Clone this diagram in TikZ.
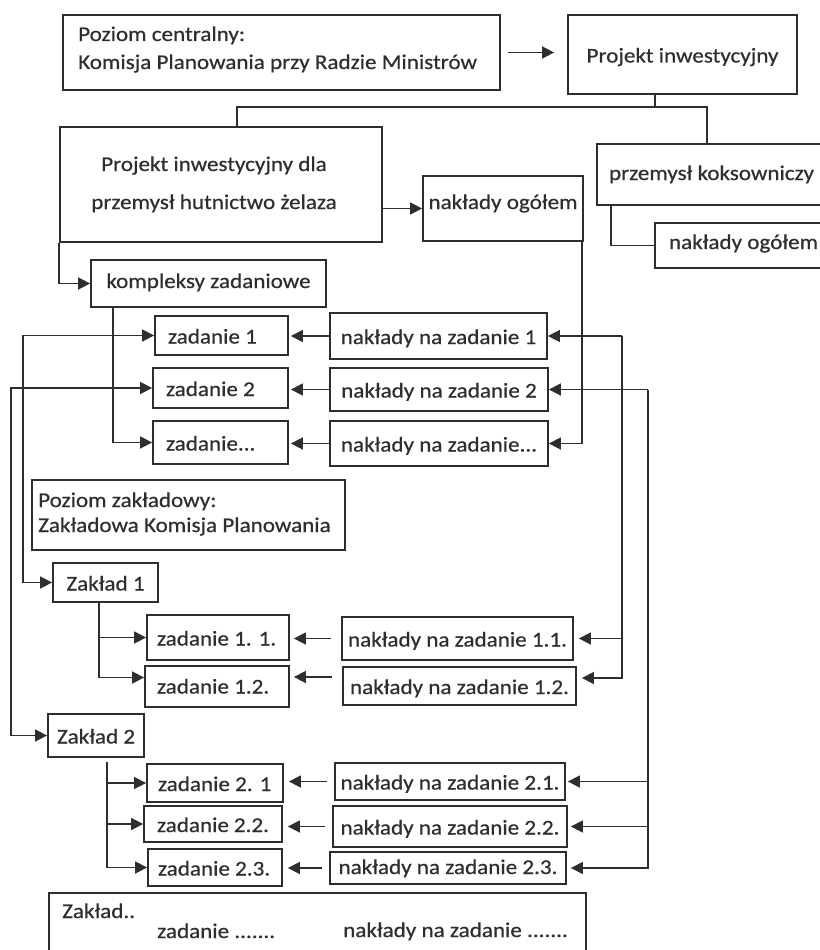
\documentclass[tikz,border=0pt]{standalone}
\usepackage{fontspec}
\setmainfont{Carlito}[FakeStretch=1.1,FakeBold=0.5]
\usetikzlibrary{arrows.meta}
\definecolor{ink}{HTML}{2E2E2E}
\begin{document}
\begin{tikzpicture}[x=1pt,y=-1pt,
  every node/.style={font=\fontsize{21}{25}\selectfont, text=ink},
  box/.style={draw=ink, line width=1.8pt, inner sep=0pt, text height=16pt, text depth=0pt},
  zbox/.style={box, execute at begin node={\hbox to #1\bgroup}, execute at end node={\hfil\egroup}},
  txt/.style={inner sep=0pt, anchor=base west},
  ctxt/.style={inner sep=0pt, anchor=base},
  link/.style={draw=ink, line width=1.6pt},
  arr/.style={link, -{Triangle[length=12pt,width=12pt]}},
  biarr/.style={link, {Triangle[length=12pt,width=12pt]}-{Triangle[length=12pt,width=12pt]}},
]
\useasboundingbox[fill=white] (0,0) rectangle (819,950);

% ---- central level
\node[box, minimum width=437pt, minimum height=75pt] (cent) at (281.5,52.5) {};
\node[txt] (centA) at (78,41) {Poziom centralny:};
\node[txt] (centB) at (78,69) {Komisja Planowania przy Radzie Ministrów};
\node[box, minimum width=229pt, minimum height=79pt] (proj) at (682.5,54.5) {Projekt inwestycyjny};

\node[box, minimum width=322pt, minimum height=115pt] (hut) at (221,184.5) {};
\node[ctxt] (hutA) at (214,171) {Projekt inwestycyjny dla};
\node[ctxt] (hutB) at (214,209) {przemysł hutnictwo żelaza};
\node[box, minimum width=160pt, minimum height=65pt, text depth=15pt] (nog1) at (503,208.5) {nakłady ogółem};
\node[box, minimum width=229pt, minimum height=61pt, text depth=5pt] (koks) at (711.5,174.5) {przemysł koksowniczy};
\node[box, minimum width=177pt, minimum height=45pt, text depth=9pt] (nog2) at (743.5,245.5) {nakłady ogółem};

\node[box, minimum width=235pt, minimum height=47pt, text depth=7pt] (komp) at (208.5,283.5) {kompleksy zadaniowe};

\node[zbox=107pt, minimum width=133pt, minimum height=39pt] (z1) at (221.5,335.5) {zadanie 1};
\node[zbox=109pt, minimum width=135pt, minimum height=40pt] (z2) at (220.5,388) {zadanie 2};
\node[zbox=109pt, minimum width=135pt, minimum height=43pt] (zd) at (220.5,442.5) {zadanie...};
\node[box, minimum width=217pt, minimum height=46pt] (n1) at (438.5,336) {nakłady na zadanie 1};
\node[box, minimum width=218pt, minimum height=43pt] (n2) at (439,389.5) {nakłady na zadanie 2};
\node[box, minimum width=218pt, minimum height=45pt] (nd) at (439,443.5) {nakłady na zadanie...};

% ---- plant level
\node[box, minimum width=313pt, minimum height=70pt] (pz) at (188.5,515) {};
\node[txt] (pzA) at (38,507) {Poziom zakładowy:};
\node[txt] (pzB) at (38,532) {Zakładowa Komisja Planowania};

\node[box, minimum width=105pt, minimum height=39pt] (zak1) at (105.5,582.5) {Zakład 1};
\node[zbox=122pt, minimum width=142pt, minimum height=45pt] (z11) at (218,637.5) {zadanie 1. 1.};
\node[zbox=120pt, minimum width=144pt, minimum height=41pt, text depth=2pt] (z12) at (217,686.5) {zadanie 1.2.};
\node[box, minimum width=231pt, minimum height=43pt] (n11) at (457.5,638.5) {nakłady na zadanie 1.1.};
\node[box, minimum width=233pt, minimum height=38pt] (n12) at (459.5,686) {nakłady na zadanie 1.2.};

\node[box, minimum width=96pt, minimum height=43pt] (zak2) at (96,735.5) {Zakład 2};
\node[zbox=114pt, minimum width=136pt, minimum height=38pt] (z21) at (215,783) {zadanie 2. 1};
\node[zbox=112pt, minimum width=138pt, minimum height=36pt] (z22) at (213,824) {zadanie 2.2.};
\node[zbox=114pt, minimum width=134pt, minimum height=37pt] (z23) at (215,867.5) {zadanie 2.3.};
\node[box, minimum width=230pt, minimum height=37pt] (n21) at (450,781.5) {nakłady na zadanie 2.1.};
\node[box, minimum width=234pt, minimum height=41pt] (n22) at (450,826.5) {nakłady na zadanie 2.2.};
\node[box, minimum width=236pt, minimum height=32pt, text depth=4pt] (n23) at (448,868) {nakłady na zadanie 2.3.};

\node[box, minimum width=537pt, minimum height=67pt] (bot) at (317.5,926.5) {};
\node[txt] (botA) at (62,918) {Zakład..};
\node[txt] (botB) at (157,938) {zadanie .......};
\node[txt] (botC) at (343,937) {nakłady na zadanie .......};

% ---- connectors (top)
\draw[arr, shorten <=7pt, shorten >=13pt] (cent.east) -- (cent.east -| proj.west);
\coordinate (bus) at (655,107);
\coordinate (busL) at (237,107);
\coordinate (busR) at (707,107);
\draw[link] (bus |- proj.south) -- (bus);
\draw[link] (busL |- hut.north) -- (busL) -- (busR) -- (busR |- koks.north);
\draw[arr] (hut.east |- nog1.west) -- (nog1.west);
\coordinate (kk) at (611,0);
\draw[link] (kk |- koks.south) |- (nog2.west);
\draw[arr] (hut.south west) |- (komp.west);
\draw[arr] ([xshift=-2pt]nog1.south east) |- (nd.east);
\coordinate (kv) at (113,0);
\draw[arr] (kv |- komp.south) |- (zd.west);

% long left lines
\coordinate (lA) at (23,0);
\coordinate (lB) at (11,0);
\draw[biarr] (z1.west) -- (lA |- z1.west) -- (lA |- zak1.west) -- (zak1.west);
\draw[biarr] (z2.west) -- (lB |- z2.west) -- (lB |- zak2.west) -- (zak2.west);

% nakłady -> zadanie (upper)
\draw[arr, shorten >=2pt] (n1.west) -- (n1.west -| z1.east);
\draw[arr, shorten >=2pt] (n2.west) -- (n2.west -| z2.east);
\draw[arr, shorten >=2pt] (nd.west) -- (nd.west -| zd.east);

% right distribution lines
\coordinate (rA) at (622,0);
\coordinate (rB) at (648,0);
\coordinate (r12e) at ([yshift=8pt]n12.east);
\coordinate (r12w) at ([yshift=9pt]n12.west);
\coordinate (l12w) at ([yshift=9pt]z12.west);
\draw[arr] (rA |- n1.east) -- (n1.east);
\draw[arr, shorten >=5pt] (rA |- n11.east) -- (n11.east);
\draw[arr, shorten >=5pt] (rA |- n1.east) |- (r12e);
\draw[arr] (rB |- n2.east) -- (n2.east);
\draw[arr, shorten >=2pt] (rB |- n21.east) -- (n21.east);
\draw[arr, shorten >=3pt] (rB |- n22.east) -- (n22.east);
\draw[arr, shorten >=4pt] (rB |- n2.east) |- (n23.east);

% plant 1
\coordinate (p1) at (99,0);
\draw[arr] (p1 |- zak1.south) |- (z11.west);
\draw[arr] (p1 |- zak1.south) |- (l12w);
\draw[arr, shorten <=10pt, shorten >=4pt] (n11.west) -- (n11.west -| z11.east);
\draw[arr, shorten <=10pt, shorten >=4pt] (r12w) -- (r12w -| z12.east);

% plant 2
\coordinate (p2) at (107,762);
\draw[arr] (p2) |- (z21.west);
\draw[arr] (p2) |- (z22.west);
\draw[arr] (p2) |- (z23.west);
\draw[arr, shorten <=7pt, shorten >=5pt] (n21.west) -- (n21.west -| z21.east);
\draw[arr, shorten <=7pt, shorten >=5pt] (n22.west) -- (n22.west -| z22.east);
\draw[arr, shorten <=7pt, shorten >=5pt] (n23.west) -- (n23.west -| z23.east);
\end{tikzpicture}
\end{document}
